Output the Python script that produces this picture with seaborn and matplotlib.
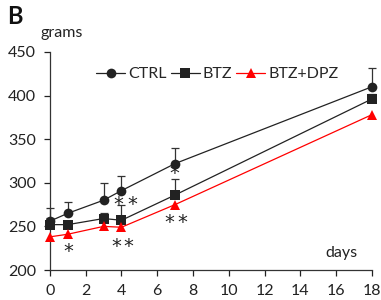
import matplotlib
matplotlib.use("Agg")
import matplotlib.pyplot as plt
import seaborn as sns
import pandas as pd

days = [0, 1, 3, 4, 7, 18]
ctrl = [256, 265, 280, 291, 322, 410]
ctrl_err = [15, 13, 20, 17, 18, 21]
btz = [252, 252, 259, 257, 286, 396]
btz_err = [8, 4, 6, 17, 18, 6]
dpz = [238, 241, 250, 249, 275, 378]
series_names = ["CTRL", "BTZ", "BTZ+DPZ"]
xticks = list(range(0, 19, 2))
yticks = [200, 250, 300, 350, 400, 450]
# significance asterisks (one entry per asterisk)
star_x = [1.05, 3.72, 4.38, 3.85, 4.6, 6.98, 6.7, 7.4]
star_y = [221, 227, 227, 275, 275, 311, 255, 255]

sns.set_style("ticks")
plt.rcParams['font.family'] = ['Lato', 'DejaVu Sans']

df = pd.DataFrame({
    "day": days * 3,
    "value": ctrl + btz + dpz,
    "group": [series_names[0]] * 6 + [series_names[1]] * 6 + [series_names[2]] * 6,
})

fig = plt.figure(figsize=(3.81, 3.0), dpi=100)
ax = fig.add_axes([0.131, 0.10, 0.845, 0.727])

ax.errorbar(days, ctrl, yerr=[[0] * 6, ctrl_err], fmt="none", ecolor="#333333",
            elinewidth=0.9, capsize=3, capthick=0.9, zorder=1, clip_on=False)
ax.errorbar(days, btz, yerr=[[0] * 6, btz_err], fmt="none", ecolor="#333333",
            elinewidth=0.9, capsize=3, capthick=0.9, zorder=1, clip_on=False)

palette = {"CTRL": "#222222", "BTZ": "#222222", "BTZ+DPZ": "#ff0000"}
markers = {"CTRL": "o", "BTZ": "s", "BTZ+DPZ": "^"}
sns.lineplot(data=df, x="day", y="value", hue="group", style="group",
             palette=palette, markers=markers, dashes=False, markersize=7,
             linewidth=0.9, markeredgewidth=0, ax=ax, clip_on=False, zorder=3)

for x, y in zip(star_x, star_y):
    ax.text(x, y, "*", ha="center", va="center", fontsize=14, color="#222222",
            family="DejaVu Sans", zorder=5)

ax.set_xlim(0, 18)
ax.set_ylim(200, 450)
ax.set_xticks(xticks)
ax.set_yticks(yticks)
ax.tick_params(labelsize=11.5, length=4, width=0.9, colors="#222222", pad=6)
ax.set_xlabel("")
ax.set_ylabel("")
for s in ["left", "bottom"]:
    ax.spines[s].set_linewidth(0.9)
    ax.spines[s].set_color("#333333")
sns.despine(ax=ax)

leg = ax.legend(loc="upper center", bbox_to_anchor=(0.52, 0.975), ncol=3, frameon=False,
                fontsize=11.5, handlelength=1.8, columnspacing=0.25, handletextpad=0.2,
                borderaxespad=0.2)

fig.text(0.105, 0.875, "grams", fontsize=11.5, color="#222222")
ax.text(17.2, 212, "days", ha="right", va="bottom", fontsize=11.5, color="#222222")
fig.text(0.02, 0.985, "B", fontsize=17, fontweight="bold", va="top", color="#111111")

fig.savefig("out.png", dpi=100)
